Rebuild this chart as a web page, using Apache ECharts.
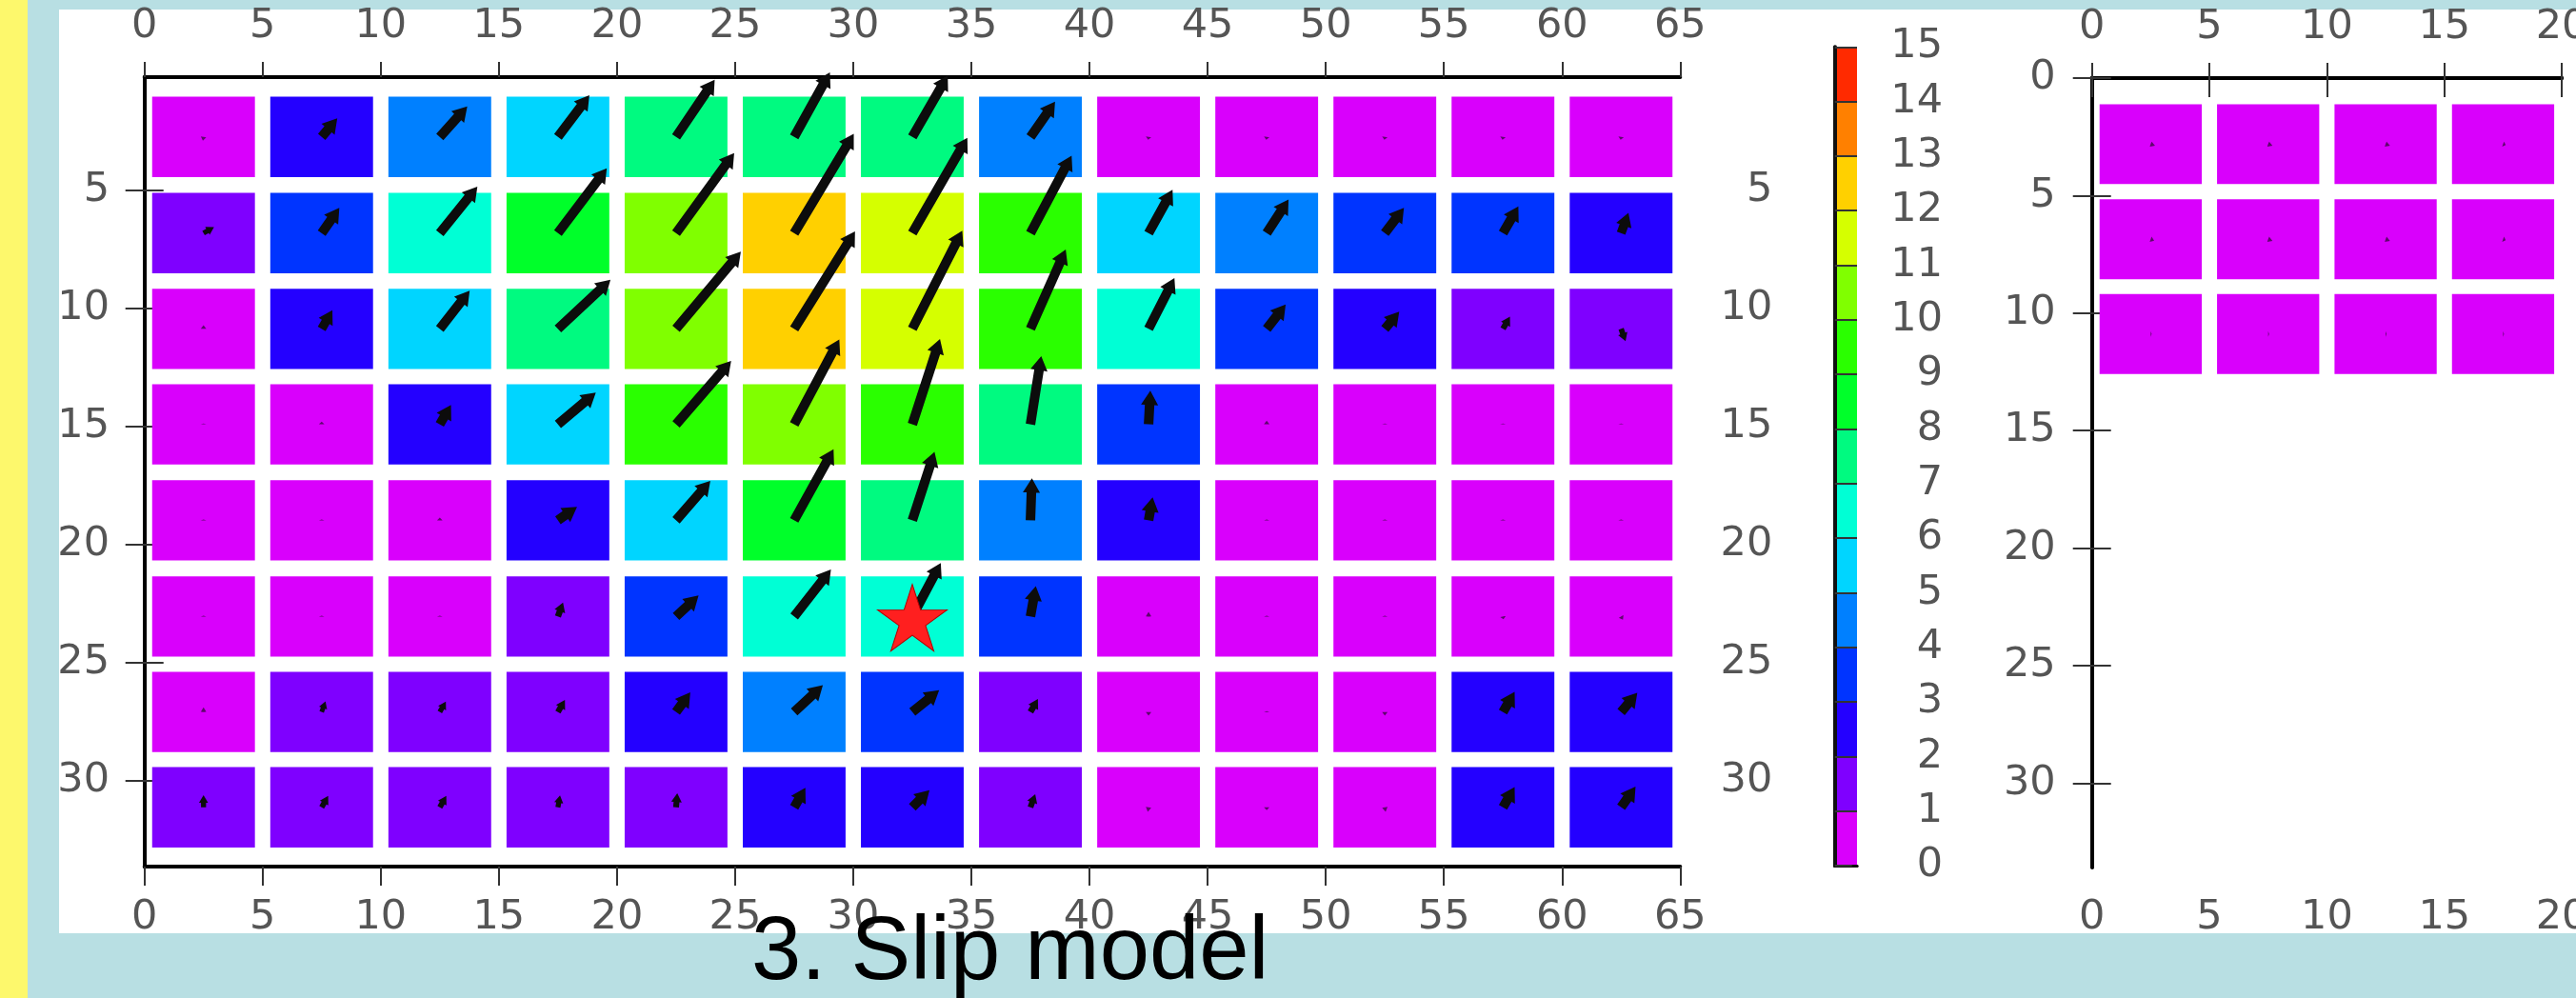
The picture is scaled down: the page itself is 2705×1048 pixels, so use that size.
<!DOCTYPE html>
<html>
<head>
<meta charset="utf-8">
<title>3. Slip model</title>
<script src="https://cdn.jsdelivr.net/npm/echarts@6/dist/echarts.min.js"></script>
<style>
  html, body { margin: 0; padding: 0; overflow: hidden; background: #b8dfe3; }
  #chart { width: 2705px; height: 1048px; }
</style>
</head>
<body>
<div id="chart"></div>
<script>
// ---- Main fault segment: subfault centres (km) ----
const strikeKm = [2.5, 7.5, 12.5, 17.5, 22.5, 27.5, 32.5, 37.5, 42.5, 47.5, 52.5, 57.5, 62.5];
const dipKm = [2.76, 6.83, 10.88, 14.92, 18.98, 23.05, 27.09, 31.12];

// Slip amplitude per subfault (m), rows from top (shallow) to bottom (deep)
const slip = [
  [0.4, 2.6, 4.4, 5.6,  7.4,  7.9,  7.6, 4.6, 0.3, 0.3, 0.3, 0.3, 0.3],
  [1.3, 3.3, 6.4, 8.7, 10.6, 12.4, 11.8, 9.4, 5.3, 4.3, 3.4, 3.3, 2.3],
  [0.4, 2.3, 5.2, 7.7, 10.8, 12.3, 11.8, 9.3, 6.1, 3.3, 2.4, 1.5, 1.4],
  [0.1, 0.3, 2.4, 5.3,  9.0, 10.3,  9.6, 7.4, 3.6, 0.4, 0.1, 0.1, 0.1],
  [0.1, 0.1, 0.3, 2.5,  5.6,  8.7,  7.7, 4.5, 2.5, 0.1, 0.1, 0.1, 0.1],
  [0.1, 0.1, 0.1, 1.6,  3.3,  6.4,  6.5, 3.3, 0.5, 0.1, 0.1, 0.3, 0.4],
  [0.5, 1.2, 1.3, 1.5,  2.6,  4.2,  3.7, 1.6, 0.4, 0.1, 0.4, 2.5, 2.7],
  [1.3, 1.4, 1.4, 1.3,  1.5,  2.4,  2.6, 1.5, 0.5, 0.3, 0.5, 2.5, 2.7]
];

// Slip direction on the fault plane (degrees, counter-clockwise from +strike)
const rake = [
  [-100, 50, 48, 53, 56, 61, 60, 55, -100, -100, -100, -100, -100],
  [  30, 55, 51, 53, 54, 59, 60, 62,   61,   57,   53,   60,   70],
  [  90, 60, 52, 43, 50, 58, 63, 66,   63,   52,   50,   60,  -70],
  [  90, 90, 60, 40, 49, 62, 72, 81,   87,   90,   90,   90,   90],
  [  90, 90, 90, 35, 49, 61, 72, 88,   80,   90,   90,   90,   90],
  [  90, 90, 90, 70, 43, 52, 62, 80,   90,   90,   90,  -80,  -60],
  [  90, 70, 60, 60, 54, 43, 39, 60,  -90,   90,  -90,   60,   50],
  [  90, 60, 60, 80, 85, 60, 45, 70, -100,  -90,  -80,   60,   55]
];

// Hypocentre on the main segment (km along strike, km down dip)
const hypocenter = [32.5, 23.1];

// ---- Second fault segment ----
const strikeKm2 = [2.5, 7.5, 12.5, 17.5];
const dipKm2 = [2.81, 6.86, 10.89];
const slip2 = [
  [0.5, 0.5, 0.5, 0.3],
  [0.4, 0.5, 0.5, 0.3],
  [0.1, 0.1, 0.1, 0.1]
];
const rake2 = [
  [-20, -20, -20, -20],
  [-20, -20, -20, -20],
  [0, 0, 0, 0]
];

// ---- Colour scale (one colour per 1 m slip bin) ----
const slipLevels = [0, 1, 2, 3, 4, 5, 6, 7, 8, 9, 10, 11, 12, 13, 14];
const levelColors = [
  '#d900fc', '#7f00ff', '#2400ff', '#0034ff', '#0080ff',
  '#00d5ff', '#00ffd5', '#00fa80', '#00ff2a', '#2aff00',
  '#80ff00', '#d5ff00', '#ffd000', '#ff8000', '#ff2a00'
];

// ---- Tick labels ----
const dipTicks = [5, 10, 15, 20, 25, 30];
const dipTicks2 = [0, 5, 10, 15, 20, 25, 30];

// Drawing constants
const CELL_W = 4.35, CELL_H = 3.4;        // patch size in km
const ARROW_SCALE = 0.395;               // km of arrow per metre of slip
const SHAFT_PX = 10, HEAD_W_PX = 18, HEAD_L_PX = 15, ARROW_FULL_PX = 24, ARROW_MIN_K = 0.32;
const LABEL_FONT = 'DejaVu Sans';
const LABEL_COLOR = '#555555';

function toCells(xs, ys, amp, dir) {
  const out = [];
  ys.forEach((y, r) => xs.forEach((x, c) => out.push([x, y, amp[r][c], dir[r][c]])));
  return out;
}
const cells = toCells(strikeKm, dipKm, slip, rake);
const cells2 = toCells(strikeKm2, dipKm2, slip2, rake2);

function colorFor(v) {
  return levelColors[Math.max(0, Math.min(levelColors.length - 1, Math.floor(v)))];
}

function renderCell(params, api) {
  const c = api.coord([api.value(0), api.value(1)]);
  const sz = api.size([CELL_W, CELL_H]);
  return {
    type: 'rect',
    shape: { x: c[0] - sz[0] / 2, y: c[1] - sz[1] / 2, width: sz[0], height: sz[1] },
    style: { fill: colorFor(api.value(2)) }
  };
}

function arrowPoints(p0, p1) {
  const dx = p1[0] - p0[0], dy = p1[1] - p0[1];
  const L = Math.hypot(dx, dy);
  if (L < 0.5) return null;
  const ux = dx / L, uy = dy / L, nx = -uy, ny = ux;
  // short vectors shrink as a whole, so they read as small blobs
  const k = Math.max(ARROW_MIN_K, Math.min(1, L / ARROW_FULL_PX));
  const w = SHAFT_PX * k / 2, hw = HEAD_W_PX * k / 2, hl = Math.min(HEAD_L_PX * k, L);
  const bx = p1[0] - ux * hl, by = p1[1] - uy * hl;
  return [
    [p0[0] + nx * w, p0[1] + ny * w],
    [bx + nx * w, by + ny * w],
    [bx + nx * hw, by + ny * hw],
    [p1[0], p1[1]],
    [bx - nx * hw, by - ny * hw],
    [bx - nx * w, by - ny * w],
    [p0[0] - nx * w, p0[1] - ny * w]
  ];
}

function renderArrow(params, api) {
  const x = api.value(0), y = api.value(1);
  const len = api.value(2) * ARROW_SCALE;
  const a = api.value(3) * Math.PI / 180;
  const p0 = api.coord([x, y]);
  // dip axis points downward, so an "up" component reduces the dip value
  const p1 = api.coord([x + len * Math.cos(a), y - len * Math.sin(a)]);
  const pts = arrowPoints(p0, p1);
  if (!pts) return null;
  return { type: 'polygon', shape: { points: pts }, style: { fill: '#0c0c0c', opacity: api.value(2) < 1 ? 0.6 : 1 } };
}

function renderLevel(params, api) {
  const lv = api.value(0);
  const a = api.coord([0, lv]);
  const b = api.coord([1, lv + 1]);
  return {
    type: 'rect',
    shape: { x: a[0], y: Math.min(a[1], b[1]), width: b[0] - a[0], height: Math.abs(b[1] - a[1]) },
    style: { fill: levelColors[lv] }
  };
}

function starSymbol() {
  let d = '';
  for (let i = 0; i < 10; i++) {
    const ang = -Math.PI / 2 + i * Math.PI / 5;
    const rr = i % 2 ? 0.382 : 1;
    d += (i ? 'L' : 'M') + (rr * Math.cos(ang)).toFixed(4) + ' ' + (rr * Math.sin(ang)).toFixed(4);
  }
  return 'path://' + d + 'Z';
}

const spine = { show: true, lineStyle: { color: '#000', width: 4 } };
const tickStyle = { color: '#333', width: 2 };
const labelBase = { fontFamily: LABEL_FONT, fontSize: 43, color: LABEL_COLOR };

function strikeAxis(grid, pos, max) {
  return {
    type: 'value', gridIndex: grid, position: pos, min: 0, max: max, interval: 5,
    axisLine: spine,
    axisTick: { show: true, inside: false, length: pos === 'top' ? 16 : 20, lineStyle: tickStyle },
    axisLabel: Object.assign({ show: true, margin: 32 }, labelBase),
    splitLine: { show: false }
  };
}

function dipAxis(grid, pos, min, max, ticks, labelOpt) {
  return {
    type: 'value', gridIndex: grid, position: pos, inverse: true, min: min, max: max,
    axisLine: spine,
    axisTick: { show: true, inside: false, length: 20, lineStyle: tickStyle, customValues: ticks },
    axisLabel: Object.assign({ customValues: ticks }, labelBase, labelOpt),
    splitLine: { show: false }
  };
}

const chart = echarts.init(document.getElementById('chart'), null, { renderer: 'canvas', width: 2705, height: 1048 });

chart.setOption({
  backgroundColor: '#b8dfe3',
  animation: false,
  graphic: [
    { type: 'rect', z: -20, shape: { x: 0, y: 0, width: 29, height: 1048 }, style: { fill: '#fdf86c' } },
    { type: 'rect', z: -20, shape: { x: 62, y: 10, width: 2643, height: 970 }, style: { fill: '#ffffff' } },
    {
      type: 'text', z: 100, x: 789, y: 1002,
      style: {
        text: '3. Slip model', fill: '#000',
        font: '94px "Liberation Sans", Arial, sans-serif',
        align: 'left', verticalAlign: 'middle'
      }
    }
  ],
  grid: [
    { left: 151.7, top: 81, width: 1612.6, height: 829, outerBoundsMode: 'none', containLabel: false },
    { left: 2196.7, top: 82, width: 493.4, height: 828.7, outerBoundsMode: 'none', containLabel: false },
    { left: 1926.7, top: 49.3, width: 23.3, height: 859.7, outerBoundsMode: 'none', containLabel: false }
  ],
  xAxis: [
    strikeAxis(0, 'top', 65),
    strikeAxis(0, 'bottom', 65),
    strikeAxis(1, 'top', 20),
    strikeAxis(1, 'bottom', 20),
    { type: 'value', gridIndex: 2, position: 'top', min: 0, max: 1,
      axisLine: { show: true, lineStyle: { color: '#111', width: 3 } },
      axisTick: { show: false }, axisLabel: { show: false }, splitLine: { show: false } },
    { type: 'value', gridIndex: 2, position: 'bottom', min: 0, max: 1,
      axisLine: { show: true, lineStyle: { color: '#111', width: 3 } },
      axisTick: { show: false }, axisLabel: { show: false }, splitLine: { show: false } }
  ],
  yAxis: [
    dipAxis(0, 'left', 0.23, 33.63, dipTicks, { margin: 36.7 }),
    dipAxis(0, 'right', 0.23, 33.63, dipTicks, { margin: 97, align: 'right' }),
    dipAxis(1, 'left', 0, 33.58, dipTicks2, { margin: 38 }),
    dipAxis(1, 'right', 0, 33.58, dipTicks2, { show: false }),
    { type: 'value', gridIndex: 2, position: 'right', min: 0, max: 15, interval: 1,
      axisLine: { show: true, lineStyle: { color: '#111', width: 4 } },
      axisTick: { show: true, inside: false, length: 18, lineStyle: tickStyle },
      axisLabel: Object.assign({ margin: 90, align: 'right' }, labelBase),
      splitLine: { show: true, lineStyle: { color: '#333', width: 2 } } },
    { type: 'value', gridIndex: 2, position: 'left', min: 0, max: 15,
      axisLine: { show: true, lineStyle: { color: '#111', width: 3 } },
      axisTick: { show: false }, axisLabel: { show: false }, splitLine: { show: false } }
  ],
  series: [
    { type: 'custom', name: 'slip', xAxisIndex: 0, yAxisIndex: 0, z: 2,
      data: cells, renderItem: renderCell, encode: { x: 0, y: 1 }, clip: false },
    { type: 'custom', name: 'slip vector', xAxisIndex: 0, yAxisIndex: 0, z: 3,
      data: cells, renderItem: renderArrow, encode: { x: 0, y: 1 }, clip: false },
    { type: 'scatter', name: 'hypocenter', xAxisIndex: 0, yAxisIndex: 0, z: 4,
      data: [hypocenter], symbol: starSymbol(), symbolSize: [73, 70],
      itemStyle: { color: '#ff1f1f', borderColor: '#b30000', borderWidth: 1, opacity: 1 } },
    { type: 'custom', name: 'slip 2', xAxisIndex: 2, yAxisIndex: 2, z: 2,
      data: cells2, renderItem: renderCell, encode: { x: 0, y: 1 }, clip: false },
    { type: 'custom', name: 'slip vector 2', xAxisIndex: 2, yAxisIndex: 2, z: 3,
      data: cells2, renderItem: renderArrow, encode: { x: 0, y: 1 }, clip: false },
    { type: 'custom', name: 'colour scale', xAxisIndex: 4, yAxisIndex: 4, z: -1,
      data: slipLevels.map(v => [v]), renderItem: renderLevel, encode: { y: 0 }, clip: false }
  ]
});
</script>
</body>
</html>
